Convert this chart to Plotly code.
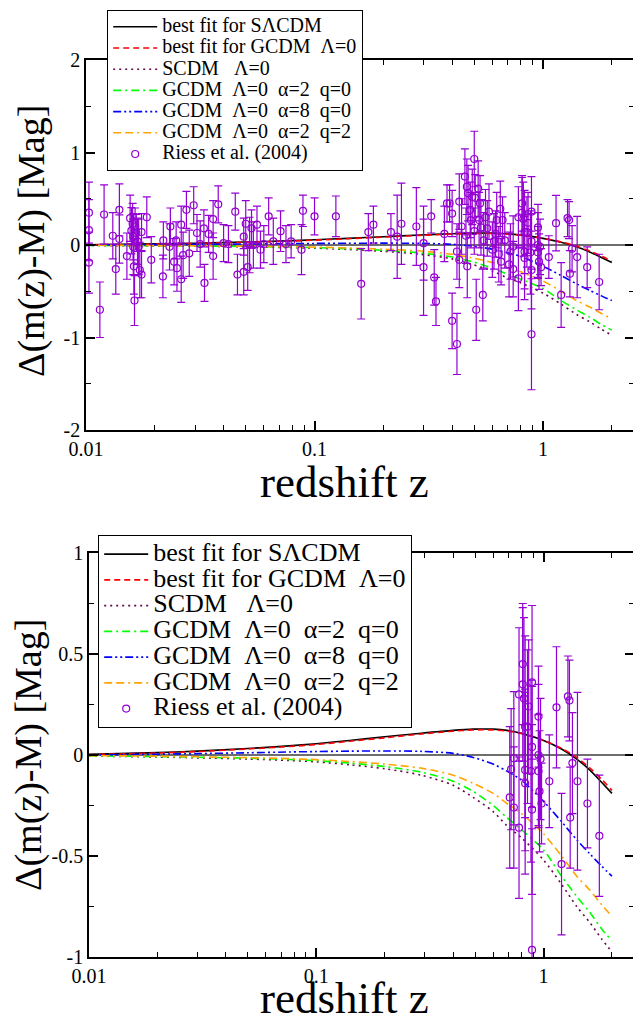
import plotly.graph_objects as go

# ---------------- model curves ----------------
z_model = [0.01, 0.02, 0.03, 0.05, 0.076, 0.1, 0.14, 0.2, 0.29, 0.4, 0.49, 0.6,
           0.69, 0.8, 1.0, 1.2, 1.4, 1.6, 1.8, 2.0]
dm_slcdm = [0.003, 0.012, 0.019, 0.032, 0.045, 0.056, 0.072, 0.09, 0.108, 0.122, 0.128, 0.128,
            0.122, 0.107, 0.072, 0.03, -0.02, -0.075, -0.135, -0.19]
dm_gcdm_fit = [0.002, 0.01, 0.017, 0.03, 0.042, 0.052, 0.068, 0.085, 0.104, 0.118, 0.124, 0.124,
               0.119, 0.106, 0.073, 0.033, -0.012, -0.065, -0.12, -0.175]
dm_scdm = [-0.005, -0.01, -0.014, -0.02, -0.027, -0.034, -0.048, -0.068, -0.1, -0.15, -0.21, -0.28,
           -0.35, -0.41, -0.52, -0.64, -0.75, -0.83, -0.91, -0.975]
dm_a2q0 = [-0.004, -0.008, -0.011, -0.016, -0.022, -0.028, -0.04, -0.057, -0.085, -0.13, -0.18, -0.25,
           -0.31, -0.37, -0.47, -0.6, -0.7, -0.78, -0.86, -0.92]
dm_a8q0 = [0.0, 0.004, 0.007, 0.011, 0.015, 0.017, 0.019, 0.02, 0.018, 0.008, -0.012, -0.045,
           -0.08, -0.125, -0.23, -0.33, -0.42, -0.49, -0.55, -0.6]
dm_a2q2 = [-0.003, -0.006, -0.009, -0.013, -0.018, -0.023, -0.032, -0.045, -0.065, -0.1, -0.14, -0.19,
           -0.24, -0.29, -0.39, -0.5, -0.6, -0.67, -0.74, -0.8]

# ---------------- Riess et al. (2004) supernovae ----------------
sn_z = [0.0103, 0.0103, 0.0103, 0.0115, 0.0120, 0.0131, 0.0135, 0.0140, 0.0140, 0.0151,
        0.0156, 0.0158, 0.0160, 0.0161, 0.0161, 0.0162, 0.0163, 0.0164, 0.0166, 0.0168,
        0.0170, 0.0172, 0.0175, 0.0175, 0.01845, 0.0193, 0.0217, 0.0218, 0.0232, 0.0234,
        0.0243, 0.0250, 0.0248, 0.0261, 0.0261, 0.0266, 0.0275, 0.0283, 0.0296, 0.0306,
        0.0316, 0.0328, 0.0330, 0.0344, 0.0360, 0.0360, 0.0379, 0.0400, 0.0420, 0.045,
        0.046, 0.049, 0.049, 0.050, 0.051, 0.052, 0.053, 0.054, 0.056, 0.058,
        0.060, 0.063, 0.066, 0.071, 0.075, 0.079, 0.0877, 0.089, 0.100, 0.124,
        0.160, 0.172, 0.181, 0.216, 0.23, 0.24, 0.279, 0.30, 0.30, 0.324,
        0.334, 0.34, 0.37, 0.38, 0.39, 0.40, 0.40, 0.42, 0.42, 0.43,
        0.43, 0.44, 0.455, 0.46, 0.464, 0.466, 0.47, 0.48, 0.483, 0.49,
        0.50, 0.50, 0.505, 0.51, 0.52, 0.525, 0.53, 0.535, 0.545, 0.55,
        0.56, 0.57, 0.58, 0.60, 0.61, 0.62, 0.627, 0.64, 0.65, 0.655,
        0.665, 0.68,
        0.71, 0.72, 0.74, 0.74, 0.78, 0.78, 0.81, 0.81, 0.82, 0.83,
        0.83, 0.83, 0.85, 0.86, 0.88, 0.89, 0.89, 0.89, 0.89, 0.95,
        0.95, 0.95, 0.96, 0.97, 0.98, 1.06, 1.14, 1.20, 1.28, 1.30,
        1.31, 1.34, 1.41, 1.56, 1.76]
sn_dm = [0.35, 0.16, -0.19, -0.70, 0.33, 0.10, -0.26, 0.38, 0.065, -0.12,
         0.29, 0.155, 0.23, 0.09, -0.02, -0.23, -0.60, 0.20, 0.13, 0.04,
         -0.02, -0.27, 0.14, -0.32, 0.30, -0.16, -0.34, 0.05, -0.02, 0.20,
         -0.18, -0.25, 0.05, -0.37, 0.22, -0.11, 0.38, -0.09, 0.43, 0.13,
         0.01, 0.18, -0.41, 0.12, 0.28, -0.12, 0.44, 0.02, 0.01, 0.36,
         -0.32, 0.09, -0.29, 0.23, -0.24, 0.0, 0.18, 0.0, 0.22, -0.05,
         0.01, 0.31, 0.04, 0.15, 0.01, 0.04, -0.05, 0.37, 0.31, 0.31,
         -0.42, 0.14, 0.22, 0.14, 0.09, 0.23, 0.20, 0.02, -0.24, 0.31,
         -0.35, -0.61, 0.12, 0.45, 0.45, -0.82, 0.34, -1.07, -0.07, -0.16,
         0.47, 0.20, 0.74, 0.10, 0.63, -0.23, 0.56, 0.38, 0.27, 0.52,
         0.93, 0.15, 0.51, -0.70, 0.61, 0.27, 0.45, 0.19, -0.54, 0.05,
         0.30, 0.18, 0.36, -0.05, 0.04, 0.12, 0.27, -0.10, 0.39, -0.18,
         0.27, 0.05,
         -0.21, -0.07, -0.016, -0.26, 0.30, -0.36, 0.45, 0.35, 0.28, 0.14,
         -0.074, -0.14, 0.14, 0.24, -0.08, 0.04, 0.36, -0.27, -0.965, 0.19,
         0.0, -0.08, -0.18, -0.02, -0.24, -0.13, 0.236, -0.54, 0.29, 0.27,
         -0.31, -0.04, -0.13, -0.24, -0.40]
sn_err = [0.33, 0.33, 0.33, 0.30, 0.32, 0.25, 0.27, 0.28, 0.26, 0.25,
          0.25, 0.25, 0.22, 0.25, 0.30, 0.30, 0.27, 0.20, 0.20, 0.25,
          0.30, 0.30, 0.20, 0.25, 0.22, 0.25, 0.23, 0.20, 0.25, 0.20,
          0.25, 0.25, 0.20, 0.25, 0.20, 0.25, 0.20, 0.25, 0.20, 0.20,
          0.25, 0.20, 0.20, 0.20, 0.20, 0.25, 0.20, 0.20, 0.20, 0.20,
          0.22, 0.20, 0.25, 0.25, 0.25, 0.30, 0.20, 0.25, 0.20, 0.20,
          0.20, 0.20, 0.25, 0.22, 0.20, 0.18, 0.27, 0.17, 0.20, 0.22,
          0.38, 0.20, 0.20, 0.20, 0.45, 0.44, 0.42, 0.40, 0.52, 0.18,
          0.30, 0.26, 0.30, 0.20, 0.20, 0.30, 0.25, 0.33, 0.30, 0.30,
          0.30, 0.30, 0.30, 0.30, 0.30, 0.34, 0.30, 0.30, 0.30, 0.30,
          0.30, 0.25, 0.25, 0.33, 0.30, 0.30, 0.30, 0.30, 0.28, 0.30,
          0.30, 0.30, 0.30, 0.30, 0.30, 0.25, 0.30, 0.30, 0.30, 0.25,
          0.25, 0.30,
          0.35, 0.30, 0.33, 0.30, 0.33, 0.35, 0.30, 0.38, 0.40, 0.45,
          0.40, 0.45, 0.38, 0.33, 0.45, 0.30, 0.38, 0.42, 0.60, 0.25,
          0.35, 0.28, 0.30, 0.30, 0.20, 0.23, 0.30, 0.35, 0.20, 0.20,
          0.25, 0.25, 0.44, 0.22, 0.30]

legend_names = ["best fit for S\u039bCDM",
                "best fit for GCDM\u00a0\u00a0\u039b=0",
                "SCDM\u00a0\u00a0\u00a0\u039b=0",
                "GCDM\u00a0\u00a0\u039b=0\u00a0\u00a0\u03b1=2\u00a0\u00a0q=0",
                "GCDM\u00a0\u00a0\u039b=0\u00a0\u00a0\u03b1=8\u00a0\u00a0q=0",
                "GCDM\u00a0\u00a0\u039b=0\u00a0\u00a0\u03b1=2\u00a0\u00a0q=2",
                "Riess et al. (2004)"]

FONT = "Liberation Serif, Times New Roman, serif"
VIOLET = "rgb(148,0,211)"
styles = [
    dict(color="black", dash="solid"),
    dict(color="rgb(255,0,0)", dash="6px,4px"),
    dict(color="rgb(103,7,72)", dash="2px,4px"),
    dict(color="rgb(0,255,0)", dash="8px,4px,2px,4px"),
    dict(color="rgb(0,0,255)", dash="8px,3px,2px,3px,2px,3px"),
    dict(color="rgb(255,165,0)", dash="8px,4px,8px,4px,2px,4px"),
]
curves = [dm_slcdm, dm_gcdm_fit, dm_scdm, dm_a2q0, dm_a8q0, dm_a2q2]

fig = go.Figure()

panels = [("x", "y", "legend", 20, None), ("x2", "y2", "legend2", 26, 0.7)]
for xa, ya, leg, fs, zmin in panels:
    for name, vals, st in zip(legend_names, curves, styles):
        fig.add_trace(go.Scatter(
            x=z_model, y=vals, mode="lines", xaxis=xa, yaxis=ya, legend=leg,
            name=f'<span style="font-size:{fs}px">{name}</span>',
            line=dict(color=st["color"], dash=st["dash"], width=1.6, shape="spline", smoothing=0.8),
            hoverinfo="skip"))
    if zmin is None:
        zs, ds, es = sn_z, sn_dm, sn_err
    else:
        sel = [i for i, z in enumerate(sn_z) if z >= zmin]
        zs = [sn_z[i] for i in sel]
        ds = [sn_dm[i] for i in sel]
        es = [sn_err[i] for i in sel]
    fig.add_trace(go.Scatter(
        x=zs, y=ds, mode="markers", xaxis=xa, yaxis=ya, legend=leg,
        name=f'<span style="font-size:{fs}px">{legend_names[6]}</span>',
        marker=dict(symbol="circle-open", size=7, color=VIOLET, line=dict(width=1.2)),
        error_y=dict(type="data", array=es, visible=True, color=VIOLET, thickness=1.2, width=4)))

# page body adds an 8px offset, so the figure is laid out in (reference px - 8)
W, H = 633, 1011
OFF = 8


def px(x):
    return (x - OFF) / W


def py(y):
    return 1 - (y - OFF) / H


minor_x = [0.02, 0.03, 0.04, 0.05, 0.06, 0.07, 0.08, 0.09,
           0.2, 0.3, 0.4, 0.5, 0.6, 0.7, 0.8, 0.9, 2]
common_ax = dict(showline=True, linecolor="black", linewidth=1.5, mirror="allticks",
                 ticks="inside", ticklen=9, tickwidth=1.5, tickcolor="black",
                 showgrid=False, tickfont=dict(family=FONT, size=20, color="black"))
minor_common = dict(ticks="inside", ticklen=5, tickwidth=1.2, tickcolor="black")

fig.update_layout(
    width=W, height=H, margin=dict(l=0, r=0, t=0, b=0, autoexpand=False),
    paper_bgcolor="white", plot_bgcolor="white", showlegend=True,
    xaxis=dict(type="log", range=[-2, 0.398], domain=[px(86), px(634)], anchor="y",
               tickvals=[0.01, 0.1, 1], ticktext=["0.01", "0.1", "1"],
               minor=dict(tickvals=minor_x, **minor_common), **common_ax),
    yaxis=dict(range=[-2, 2], domain=[py(430), py(60)], anchor="x",
               tickvals=[-2, -1, 0, 1, 2], ticktext=["-2", "-1", "0", "1", "2"],
               minor=dict(tickvals=[-1.5, -0.5, 0.5, 1.5], **minor_common),
               zeroline=True, zerolinecolor="rgb(110,110,110)", zerolinewidth=1.5,
               **common_ax),
    xaxis2=dict(type="log", range=[-2, 0.398], domain=[px(89), px(634)], anchor="y2",
                tickvals=[0.01, 0.1, 1], ticktext=["0.01", "0.1", "1"],
                minor=dict(tickvals=minor_x, **minor_common), **common_ax),
    yaxis2=dict(range=[-1, 1], domain=[py(957), py(553)], anchor="x2",
                tickvals=[-1, -0.5, 0, 0.5, 1], ticktext=["-1", "-0.5", "0", "0.5", "1"],
                minor=dict(tickvals=[-0.75, -0.25, 0.25, 0.75], **minor_common),
                zeroline=True, zerolinecolor="rgb(110,110,110)", zerolinewidth=1.5,
                **common_ax),
    legend=dict(x=px(107), y=py(10), xanchor="left", yanchor="top",
                bgcolor="white", bordercolor="black", borderwidth=1.2,
                font=dict(family=FONT, size=14, color="black"), itemwidth=44,
                tracegroupgap=0),
    legend2=dict(x=px(98), y=py(535), xanchor="left", yanchor="top",
                 bgcolor="white", bordercolor="black", borderwidth=1.2,
                 font=dict(family=FONT, size=17.5, color="black"), itemwidth=44,
                 tracegroupgap=0),
    annotations=[
        dict(text="\u0394(m(z)-M) [Mag]", x=px(31), y=py(241), textangle=-90,
             font=dict(family=FONT, size=38, color="black")),
        dict(text="redshift z", x=px(344), y=py(482),
             font=dict(family=FONT, size=45, color="black")),
        dict(text="\u0394(m(z)-M) [Mag]", x=px(28), y=py(755), textangle=-90,
             font=dict(family=FONT, size=38, color="black")),
        dict(text="redshift z", x=px(344), y=py(998),
             font=dict(family=FONT, size=45, color="black")),
    ],
)
fig.update_annotations(xref="paper", yref="paper", showarrow=False,
                       xanchor="center", yanchor="middle")

fig.write_html("out.html")
